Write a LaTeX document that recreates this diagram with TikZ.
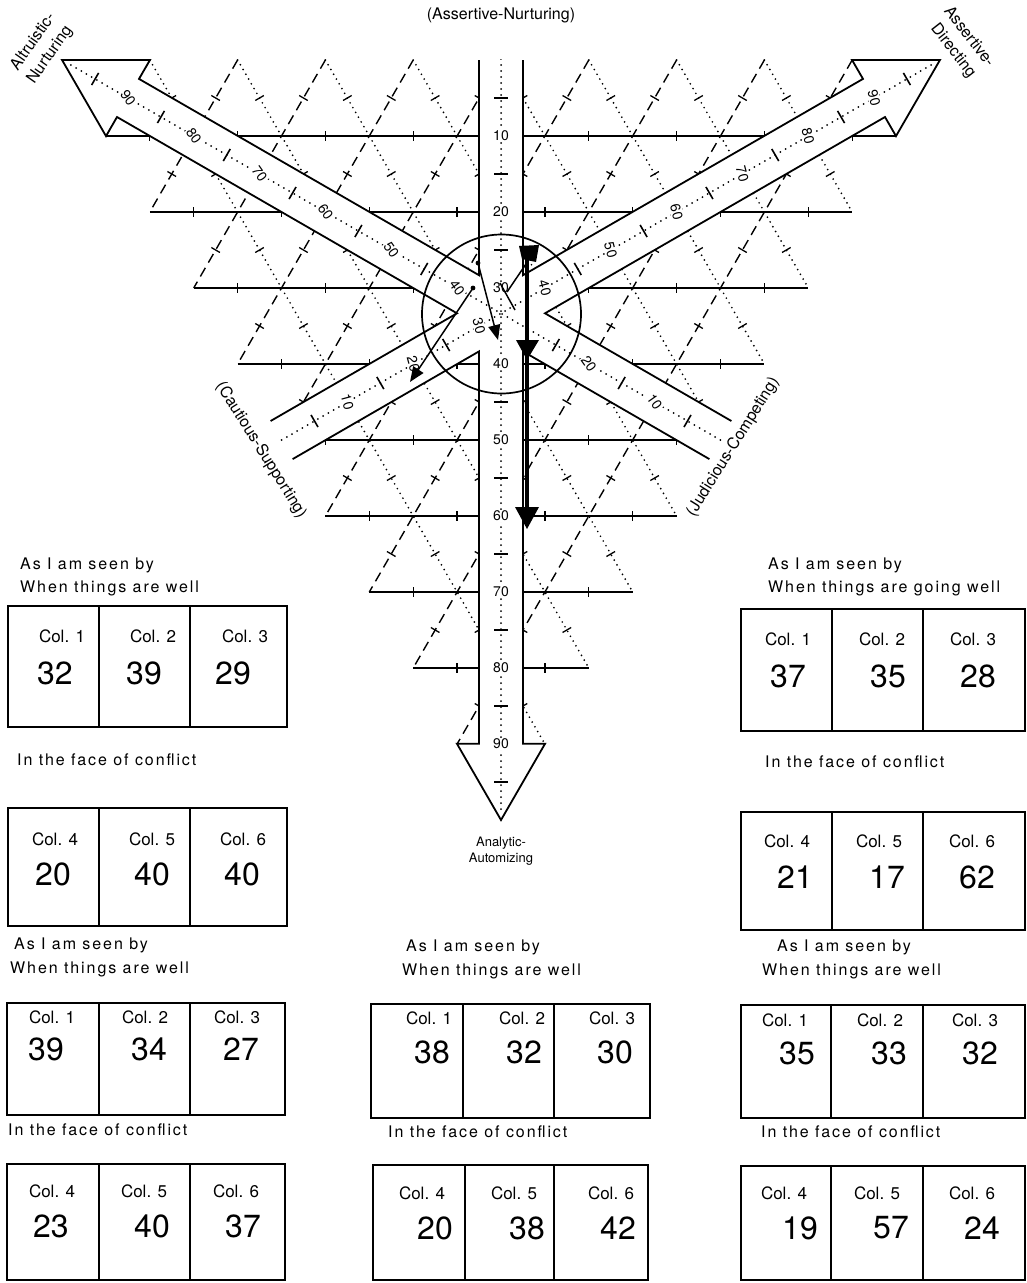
\documentclass[tikz,border=0pt]{standalone}
\usepackage{fontspec}
\setmainfont{TeX Gyre Heros}
\newfontfamily\spaced[LetterSpace=12]{TeX Gyre Heros}
\usetikzlibrary{arrows.meta}
\tikzset{
  gsolid/.style={line width=1.4pt},
  gdash/.style={line width=1.4pt, dash pattern=on 10pt off 6pt},
  gdot/.style={line width=1.9pt, line cap=round, dash pattern=on 0pt off 5.5pt},
  gtick/.style={line width=1.3pt},
  band/.style={line width=1.8pt, line join=miter},
  cdot/.style={line width=2pt, line cap=round, dash pattern=on 0pt off 6pt},
  btick/.style={line width=1.6pt},
  blab/.style={fill=white, inner sep=1pt, font=\fontsize{14}{14}\selectfont},
  axlab/.style={font=\fontsize{16}{19}\selectfont, inner sep=0pt},
  tabline/.style={line width=1.8pt},
  coll/.style={font=\fontsize{17}{17}\selectfont, inner sep=0pt},
  numl/.style={font=\fontsize{32}{32}\selectfont, inner sep=0pt},
  hdr/.style={anchor=west, inner sep=0pt, font=\spaced\fontsize{16}{16}\selectfont},
  plotline/.style={line width=1.5pt},
  ptip/.style={-{Triangle[length=15pt,width=12pt]}},
}
\newcommand\ctab[6]{\draw[tabline] (#1,#2) rectangle (#3,#4) (#5,#2) -- (#5,#4) (#6,#2) -- (#6,#4);}
\begin{document}
\begin{tikzpicture}[x=1pt,y=-1pt]
\fill[white] (0,0) rectangle (1026,1283);
\useasboundingbox (0,0) rectangle (1026,1283);

% ---------- triangular grid ----------
\foreach \k in {10,20,...,90}{
  \pgfmathtruncatemacro\lmt{100-\k}
  % horizontal lines (a = k)
  \pgfmathsetmacro\yy{60+7.6*\k}
  \pgfmathsetmacro\xl{62+4.39*\k}
  \pgfmathsetmacro\xr{940-4.39*\k}
  \draw[gsolid] (\xl,\yy) -- (\xr,\yy);
  \foreach \j in {5,15,...,95}{
    \ifnum\j<\lmt\relax
      \pgfmathsetmacro\tx{940-8.78*\j-4.39*\k}
      \draw[gtick] (\tx,\yy-5) -- (\tx,\yy+5);
    \fi}
  % dashed lines (b = k)
  \pgfmathsetmacro\xa{940-8.78*\k}
  \pgfmathsetmacro\xb{501-4.39*\k}
  \pgfmathsetmacro\yb{60+7.6*(100-\k)}
  \draw[gdash] (\xa,60) -- (\xb,\yb);
  \foreach \j in {5,15,...,95}{
    \ifnum\j<\lmt\relax
      \pgfmathsetmacro\tx{940-8.78*\k-4.39*\j}
      \pgfmathsetmacro\ty{60+7.6*\j}
      \draw[gtick] (\tx-4.3,\ty-2.5) -- (\tx+4.3,\ty+2.5);
    \fi}
  % dotted lines (c = k)
  \pgfmathsetmacro\xc{62+8.78*\k}
  \pgfmathsetmacro\xd{501+4.39*\k}
  \draw[gdot] (\xc,60) -- (\xd,\yb);
  \foreach \j in {5,15,...,95}{
    \ifnum\j<\lmt\relax
      \pgfmathsetmacro\tx{62+8.78*\k+4.39*\j}
      \pgfmathsetmacro\ty{60+7.6*\j}
      \draw[gtick] (\tx-4.3,\ty+2.5) -- (\tx+4.3,\ty-2.5);
    \fi}
}

% ---------- the three arrows (star shaped band) ----------
\coordinate (P1) at (479,60);
\coordinate (P2) at (479,275.2);
\coordinate (P3) at (139,78.9);
\coordinate (P4) at (150,59.9);
\coordinate (P5) at (62,59.9);
\coordinate (P6) at (106,136.1);
\coordinate (P7) at (117,117.0);
\coordinate (P8) at (457,313.3);
\coordinate (P9) at (270.6,421.0);
\coordinate (P10) at (292.6,459.1);
\coordinate (P11) at (479,351.4);
\coordinate (P12) at (479,743.8);
\coordinate (P13) at (457,743.8);
\coordinate (P14) at (501,820);
\coordinate (P15) at (545,743.8);
\coordinate (P16) at (523,743.8);
\coordinate (P17) at (523,351.4);
\coordinate (P18) at (709.4,459.1);
\coordinate (P19) at (731.4,421.0);
\coordinate (P20) at (545,313.3);
\coordinate (P21) at (885,117.0);
\coordinate (P22) at (896,136.1);
\coordinate (P23) at (940,59.9);
\coordinate (P24) at (852,59.9);
\coordinate (P25) at (863,78.9);
\coordinate (P26) at (523,275.2);
\coordinate (P27) at (523,60);
\fill[white] (P1) -- (P2) -- (P3) -- (P4) -- (P5) -- (P6) -- (P7) -- (P8) -- (P9) -- (P10) -- (P11) -- (P12) -- (P13) -- (P14) -- (P15) -- (P16) -- (P17) -- (P18) -- (P19) -- (P20) -- (P21) -- (P22) -- (P23) -- (P24) -- (P25) -- (P26) -- (P27) -- cycle;
\draw[band] (P1) -- (P2) -- (P3) -- (P4) -- (P5) -- (P6) -- (P7) -- (P8) -- (P9);
\draw[band] (P10) -- (P11) -- (P12) -- (P13) -- (P14) -- (P15) -- (P16) -- (P17) -- (P18);
\draw[band] (P19) -- (P20) -- (P21) -- (P22) -- (P23) -- (P24) -- (P25) -- (P26) -- (P27);

% centre dotted lines
\draw[cdot] (501,65) -- (501,812);
\draw[cdot] (720.4,440) -- (68.8,63.8);
\draw[cdot] (281.6,440) -- (933.2,63.8);

% scale ticks
\foreach \k in {5,15,25,45,55,65,75,85,95}{
  \pgfmathsetmacro\ty{60+7.6*\k}
  \draw[btick] (494,\ty) -- (508,\ty);
  \pgfmathsetmacro\lx{720.4-6.582*\k}
  \pgfmathsetmacro\ly{440-3.8*\k}
  \draw[btick] (\lx-3.5,\ly+6.06) -- (\lx+3.5,\ly-6.06);
  \pgfmathsetmacro\rx{281.6+6.582*\k}
  \draw[btick] (\rx-3.5,\ly-6.06) -- (\rx+3.5,\ly+6.06);
}
% scale labels
\foreach \k in {10,20,...,90}{
  \pgfmathsetmacro\ty{60+7.6*\k}
  \node[blab] (v\k) at (501,\ty) {\k};
  \pgfmathsetmacro\ly{440-3.8*\k}
  \pgfmathsetmacro\rx{281.6+6.582*\k}
  \node[blab, rotate=-75] (r\k) at (\rx,\ly) {\k};
}
\foreach \k in {10,20,40,50,60,70,80,90}{
  \pgfmathsetmacro\lx{720.4-6.582*\k}
  \pgfmathsetmacro\ly{440-3.8*\k}
  \node[blab, rotate=-55] (l\k) at (\lx,\ly) {\k};
}

% centre circle
\node[draw, circle, line width=1.7pt, minimum size=159pt, inner sep=0pt] (ring) at (501.5,314) {};

% plotted arrows
\coordinate (s1) at (478,263);
\coordinate (e1) at (498,340);
\coordinate (s2) at (473,288);
\coordinate (e2) at (410,382);
\coordinate (s3) at (507,292);
\coordinate (e3) at (528,261);
\coordinate (s4) at (500,283);
\coordinate (e4) at (515,310);
\coordinate (s5) at (527,258);
\coordinate (e5) at (527,512);
\fill (s1) circle[radius=2.4pt];
\fill (s2) circle[radius=2.4pt];
\draw[plotline, ptip] (s1) -- (e1);
\draw[plotline, ptip] (s2) -- (e2);
\draw[plotline] (s3) -- (e3);
\draw[plotline] (s4) -- (e4);
\fill (519,246) -- (539,245) -- (536,262) -- (522,259) -- cycle;
\draw[line width=3.6pt] (s5) -- (e5);
\fill (516,340) -- (539,340) -- (527,360) -- cycle;
\fill (515,507) -- (539,507) -- (527,529) -- cycle;

% axis names
\node[axlab] (an) at (501,15) {(Assertive-Nurturing)};
\node[axlab, rotate=55] (altn1) at (32,41) {Altruistic-};
\node[axlab, rotate=55] (altn2) at (50,55) {Nurturing};
\node[axlab, rotate=-52] (asd1) at (970,36) {Assertive-};
\node[axlab, rotate=-52] (asd2) at (953,51) {Directing};
\node[axlab, rotate=-58] (cs) at (261,450) {(Cautious-Supporting)};
\node[axlab, rotate=58] (jc) at (733,447) {(Judicious-Competing)};
\node[axlab] (aa) at (501,843) {\fontsize{13}{15}\selectfont Analytic-};
\node[axlab] (ab) at (501,859) {\fontsize{13}{15}\selectfont Automizing};

% ---------- tables ----------
\ctab{8}{606}{287}{727}{99}{190}
\ctab{8}{808}{287}{926}{99}{190}
\ctab{741}{609}{1025}{731}{832}{923}
\ctab{741}{812}{1025}{930}{832}{923}
\ctab{7}{1003}{285}{1115}{99}{190}
\ctab{7}{1164}{285}{1280}{99}{190}
\ctab{371}{1004}{650}{1118}{463}{554}
\ctab{373}{1165}{648}{1280}{465}{554}
\ctab{741}{1005}{1025}{1118}{831}{923}
\ctab{741}{1166}{1025}{1280}{831}{923}

% headings
\node[hdr] (h1) at (20,565) {As I am seen by};
\node[hdr] (h2) at (20,588) {When things are well};
\node[hdr] (h3) at (17,760) {In the face of conflict};
\node[hdr] (h4) at (768,565) {As I am seen by};
\node[hdr] (h5) at (768,588) {When things are going well};
\node[hdr] (h6) at (765,762) {In the face of conflict};
\node[hdr] (h7) at (14,945) {As I am seen by};
\node[hdr] (h8) at (10,969) {When things are well};
\node[hdr] (h9) at (8,1130) {In the face of conflict};
\node[hdr] (h10) at (406,947) {As I am seen by};
\node[hdr] (h11) at (402,971) {When things are well};
\node[hdr] (h12) at (388,1132) {In the face of conflict};
\node[hdr] (h13) at (777,947) {As I am seen by};
\node[hdr] (h14) at (762,971) {When things are well};
\node[hdr] (h15) at (761,1132) {In the face of conflict};

% top-left tables
\node[coll] (a1) at (62,636) {Col. 1};
\node[coll] (a2) at (153,636) {Col. 2};
\node[coll] (a3) at (245,636) {Col. 3};
\node[numl] (an1) at (55,673) {32};
\node[numl] (an2) at (144,673) {39};
\node[numl] (an3) at (233,673) {29};
\node[coll] (a4) at (55,839) {Col. 4};
\node[coll] (a5) at (152,839) {Col. 5};
\node[coll] (a6) at (243,839) {Col. 6};
\node[numl] (an4) at (53,874) {20};
\node[numl] (an5) at (152,874) {40};
\node[numl] (an6) at (242,874) {40};
% top-right tables
\node[coll] (b1) at (788,639) {Col. 1};
\node[coll] (b2) at (882,639) {Col. 2};
\node[coll] (b3) at (973,639) {Col. 3};
\node[numl] (bn1) at (788,676) {37};
\node[numl] (bn2) at (888,676) {35};
\node[numl] (bn3) at (978,676) {28};
\node[coll] (b4) at (787,841) {Col. 4};
\node[coll] (b5) at (879,841) {Col. 5};
\node[coll] (b6) at (972,841) {Col. 6};
\node[numl] (bn4) at (795,877) {21};
\node[numl] (bn5) at (887,877) {17};
\node[numl] (bn6) at (977,877) {62};
% bottom-left tables
\node[coll] (c1) at (52,1017) {Col. 1};
\node[coll] (c2) at (145,1017) {Col. 2};
\node[coll] (c3) at (237,1017) {Col. 3};
\node[numl] (cn1) at (46,1049) {39};
\node[numl] (cn2) at (149,1049) {34};
\node[numl] (cn3) at (241,1049) {27};
\node[coll] (c4) at (52,1191) {Col. 4};
\node[coll] (c5) at (144,1191) {Col. 5};
\node[coll] (c6) at (236,1191) {Col. 6};
\node[numl] (cn4) at (51,1226) {23};
\node[numl] (cn5) at (152,1226) {40};
\node[numl] (cn6) at (243,1226) {37};
% bottom-middle tables
\node[coll] (d1) at (429,1018) {Col. 1};
\node[coll] (d2) at (522,1018) {Col. 2};
\node[coll] (d3) at (612,1018) {Col. 3};
\node[numl] (dn1) at (432,1052) {38};
\node[numl] (dn2) at (524,1052) {32};
\node[numl] (dn3) at (615,1052) {30};
\node[coll] (d4) at (422,1193) {Col. 4};
\node[coll] (d5) at (514,1193) {Col. 5};
\node[coll] (d6) at (611,1193) {Col. 6};
\node[numl] (dn4) at (435,1228) {20};
\node[numl] (dn5) at (527,1228) {38};
\node[numl] (dn6) at (618,1228) {42};
% bottom-right tables
\node[coll] (e1n) at (785,1020) {Col. 1};
\node[coll] (e2n) at (880,1020) {Col. 2};
\node[coll] (e3n) at (975,1020) {Col. 3};
\node[numl] (en1) at (797,1053) {35};
\node[numl] (en2) at (889,1053) {33};
\node[numl] (en3) at (980,1053) {32};
\node[coll] (e4n) at (784,1193) {Col. 4};
\node[coll] (e5n) at (877,1193) {Col. 5};
\node[coll] (e6n) at (972,1193) {Col. 6};
\node[numl] (en4) at (800,1228) {19};
\node[numl] (en5) at (891,1228) {57};
\node[numl] (en6) at (982,1228) {24};
\end{tikzpicture}
\end{document}
